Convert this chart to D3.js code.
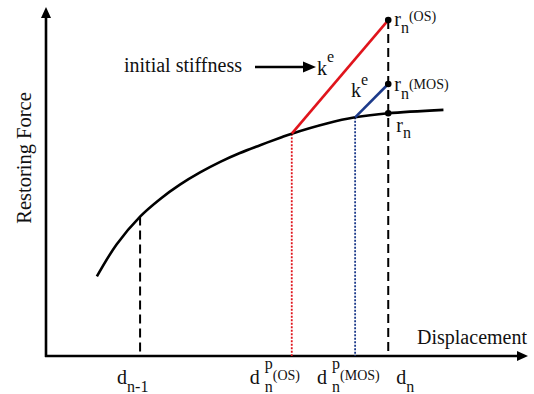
<!DOCTYPE html>
<html><head><meta charset="utf-8">
<script src="https://cdn.jsdelivr.net/npm/d3@7/dist/d3.min.js"></script>
<style>body{margin:0;background:#fff}svg{display:block}text{font-family:"Liberation Serif","Times New Roman",serif;fill:#111}</style>
</head><body><svg id="c" width="534" height="394"></svg>
<script>
// backbone curve (displacement, restoring force), arbitrary units
const curveDisp  = [10.6, 14.7, 19.6, 23.8, 27.9, 32.1, 36.3, 40.4, 44.6, 48.8, 51.2, 58.5, 64.4, 71.3, 82.8];
const curveForce = [23.4, 32.8, 41.0, 46.2, 50.4, 54.0, 57.1, 59.7, 62.0, 64.2, 65.4, 68.4, 70.2, 71.4, 72.4];
// key displacements: d_{n-1}, d_n^p(OS), d_n^p(MOS), d_n
const keyDisp  = [19.6, 51.2, 64.4, 71.3];
const keyForce = [41.0, 65.4, 70.2, 71.4];
// predicted forces at d_n
const forceOS = 98.8, forceMOS = 80.0, forceN = 71.4;

const svg = d3.select("#c");
const x = d3.scaleLinear().domain([0,100]).range([46,526]);
const y = d3.scaleLinear().domain([0,100]).range([356,16]);

// axes
svg.append("line").attr("x1",x(0)).attr("y1",y(0)+1).attr("x2",x(0)).attr("y2",14).attr("stroke","#000").attr("stroke-width",2.6);
svg.append("line").attr("x1",x(0)-1).attr("y1",y(0)).attr("x2",520).attr("y2",y(0)).attr("stroke","#000").attr("stroke-width",2.6);
svg.append("path").attr("d",`M${x(0)},7 L${x(0)-5},18 L${x(0)+5},18 Z`).attr("fill","#000");
svg.append("path").attr("d",`M528,${y(0)} L517,${y(0)-5} L517,${y(0)+5} Z`).attr("fill","#000");

svg.append("text").attr("x",527).attr("y",344).attr("text-anchor","end").attr("font-size",20).text("Displacement");
svg.append("text").attr("transform","translate(31,158) rotate(-90)").attr("text-anchor","middle").attr("font-size",20.5).text("Restoring Force");

// vertical guide lines
svg.append("line").attr("x1",x(keyDisp[0])).attr("x2",x(keyDisp[0])).attr("y1",y(keyForce[0])).attr("y2",y(0))
  .attr("stroke","#000").attr("stroke-width",2).attr("stroke-dasharray","9,5");
svg.append("line").attr("x1",x(keyDisp[1])).attr("x2",x(keyDisp[1])).attr("y1",y(keyForce[1])).attr("y2",y(0))
  .attr("stroke","#e0141c").attr("stroke-width",1.8).attr("stroke-dasharray","2,1.5");
svg.append("line").attr("x1",x(keyDisp[2])).attr("x2",x(keyDisp[2])).attr("y1",y(keyForce[2])).attr("y2",y(0))
  .attr("stroke","#1c3a8a").attr("stroke-width",1.8).attr("stroke-dasharray","2,1.5");
svg.append("line").attr("x1",x(keyDisp[3])).attr("x2",x(keyDisp[3])).attr("y1",y(forceOS)).attr("y2",y(0))
  .attr("stroke","#000").attr("stroke-width",2).attr("stroke-dasharray","9,5");

// backbone curve
const pts = curveDisp.map((d,i)=>[d,curveForce[i]]);
svg.append("path").datum(pts).attr("fill","none").attr("stroke","#000").attr("stroke-width",2.6)
  .attr("d",d3.line().x(d=>x(d[0])).y(d=>y(d[1])).curve(d3.curveCatmullRom.alpha(0.5)));

// stiffness lines
svg.append("line").attr("x1",x(keyDisp[1])).attr("y1",y(keyForce[1])).attr("x2",x(keyDisp[3])).attr("y2",y(forceOS))
  .attr("stroke","#e0141c").attr("stroke-width",2.6);
svg.append("line").attr("x1",x(keyDisp[2])).attr("y1",y(keyForce[2])).attr("x2",x(keyDisp[3])).attr("y2",y(forceMOS))
  .attr("stroke","#1c3a8a").attr("stroke-width",2.6);

// dots
[forceOS, forceMOS, forceN].forEach(f=>{
  svg.append("circle").attr("cx",x(keyDisp[3])).attr("cy",y(f)).attr("r",3.3).attr("fill","#000");
});

// labels helper
function lab(px,py,parts){
  const t = svg.append("text").attr("x",px).attr("y",py).attr("font-size",20);
  parts.forEach(p=>{
    const s = t.append("tspan").text(p.t).attr("font-size",p.s||20);
    if(p.x!==undefined) s.attr("x",p.x);
    if(p.y!==undefined) s.attr("y",p.y);
  });
}
const xn = x(keyDisp[3]);
lab(xn+6, y(forceOS)+6, [{t:"r"},{t:"n",s:16,y:y(forceOS)+13},{t:"(OS)",s:14,y:y(forceOS)+1}]);
lab(xn+6, y(forceMOS)+7, [{t:"r"},{t:"n",s:16,y:y(forceMOS)+15},{t:"(MOS)",s:14,y:y(forceMOS)+5}]);
lab(xn+8, y(forceN)+19, [{t:"r"},{t:"n",s:16,y:y(forceN)+25}]);

lab(317, 75, [{t:"k"},{t:"e",s:16,y:62}]);
lab(351, 97, [{t:"k"},{t:"e",s:16,y:85}]);

svg.append("text").attr("x",124).attr("y",72).attr("font-size",20).text("initial stiffness");
svg.append("line").attr("x1",255).attr("y1",67).attr("x2",306).attr("y2",67).attr("stroke","#000").attr("stroke-width",2.5);
svg.append("path").attr("d","M316,67 L303,61.5 L303,72.5 Z").attr("fill","#000");

// x labels
const bx = keyDisp.map(d=>x(d));
lab(bx[0]-23, 384, [{t:"d"},{t:"n-1",s:16,y:392}]);
lab(bx[1]-42, 384, [{t:"d"},{t:"p",s:16,x:bx[1]-27,y:369},{t:"n",s:16,x:bx[1]-27,y:392},{t:"(OS)",s:14,y:380}]);
lab(bx[2]-38, 384, [{t:"d"},{t:"p",s:16,x:bx[2]-23,y:369},{t:"n",s:16,x:bx[2]-23,y:392},{t:"(MOS)",s:14,y:380}]);
lab(bx[3]+8, 384, [{t:"d"},{t:"n",s:16,y:392}]);
</script></body></html>
